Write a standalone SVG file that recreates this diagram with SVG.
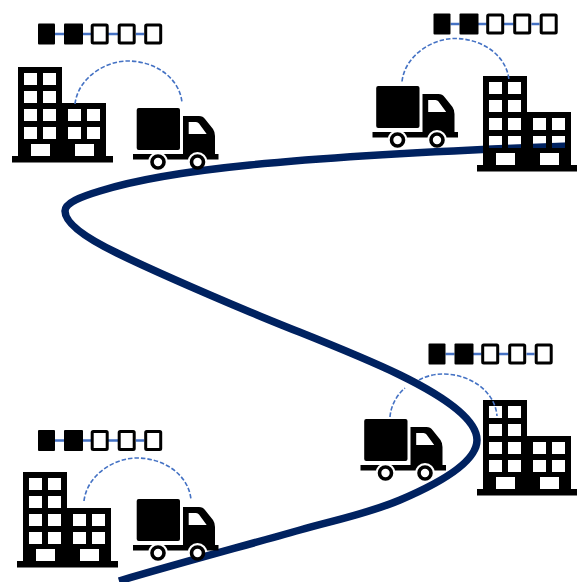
<svg xmlns="http://www.w3.org/2000/svg" width="577" height="582" viewBox="0 0 577 582">
<style>
.route{fill:none;stroke:#002060;stroke-width:7.5;stroke-linecap:butt}
.arc{fill:none;stroke:#4472C4;stroke-width:1.6;stroke-dasharray:4.500 2}
.link{stroke:#4472C4;stroke-width:2.6;fill:none}
.ink{fill:#000}
.open{fill:#fff;stroke:#000;stroke-width:3}
.wheel{fill:#fff;stroke:#000;stroke-width:3.6}
</style>
<defs>
<filter id="soft" x="0" y="0" width="577" height="582" filterUnits="userSpaceOnUse"><feGaussianBlur stdDeviation="0.45"/></filter>
<g id="building">
<path class="ink" fill-rule="evenodd" d="M18 67H62V103H106V156H113V162.500H12V156H18Z
M24 73h13v12h-13z M43 73h13v12h-13z
M24 91h13v12h-13z M43 91h13v12h-13z
M24 109h13v12h-13z M43 109h13v12h-13z
M24 127h13v12h-13z M43 127h13v12h-13z
M68 109h13v12h-13z M87 109h13v12h-13z
M68 127h13v12h-13z M87 127h13v12h-13z
M31 144h19v12h-19z M75 144h19v12h-19z"/>
</g>
<mask id="wheelgap" maskUnits="userSpaceOnUse" x="125" y="100" width="100" height="75">
<rect x="125" y="100" width="100" height="75" fill="#fff"/>
<circle cx="158" cy="162" r="10" fill="#000"/>
<circle cx="197.500" cy="162" r="10" fill="#000"/>
</mask>
<g id="truck">
<rect class="ink" x="136.700" y="108" width="43.300" height="42" rx="2"/>
<g mask="url(#wheelgap)">
<path class="ink" fill-rule="evenodd" d="M183 116H199Q203 116 205 119L213 129Q215 132 215 136V154H218.500V159.500H133V154H183Z
M188.700 122V134H206.700L199 123.500Q198 122 196 122Z"/>
</g>
<circle class="wheel" cx="158" cy="162" r="6"/>
<circle class="wheel" cx="197.500" cy="162" r="6"/>
</g>
<g id="chain">
<path class="link" d="M55 34H64M82 34H91M108 34H118M136 34H144"/>
<rect class="ink" x="38" y="23.500" width="17" height="21" rx="1"/>
<rect class="ink" x="64" y="23.500" width="19" height="21" rx="1"/>
<rect class="open" x="92.200" y="25" width="15" height="18" rx="1"/>
<rect class="open" x="119.200" y="25" width="15" height="18" rx="1"/>
<rect class="open" x="145.700" y="25" width="15" height="18" rx="1"/>
</g>
</defs>
<g filter="url(#soft)">
<path id="route" class="route" d="M570 146C460 150 350 155 250 165C190 171 135 180 100 191C80 197 65 203 65 211C65 224 88 239 117 253C160 274 205 293 250 312C300 333 350 351 400 375C445 397 477 420 477 440C477 462 440 483 400 500C367 514 335 520 300 530C240 547 180 563 119 581"/>
<g id="site-top-left">
<use href="#chain"/>
<use href="#building"/>
<use href="#truck"/>
</g>
<g id="site-top-right">
<use href="#chain" transform="translate(395.500 -10)"/>
<use href="#building" transform="translate(465 9)"/>
<use href="#truck" transform="translate(239.500 -22)"/>
</g>
<g id="site-bottom-right">
<use href="#chain" transform="translate(390.500 320)"/>
<use href="#building" transform="translate(465 333)"/>
<use href="#truck" transform="translate(227.500 311)"/>
</g>
<g id="site-bottom-left">
<use href="#chain" transform="translate(0 406.500)"/>
<use href="#building" transform="translate(5 405)"/>
<use href="#truck" transform="translate(0 391)"/>
</g>
<g id="connectors">
<path class="arc" d="M75 104C78 78 105 61 128 61C155 61 180 78 182 103"/>
<path class="arc" d="M402 81.500C405 55.500 432 38.500 455 38.500C482 38.500 507 55.500 509 80.500"/>
<path class="arc" d="M390 417C391 404 398 394 405 388M419 380C426 376 435 374 443 374C470 374 495 391 497 416"/>
<path class="arc" d="M84 501C87 475 114 458 137 458C164 458 189 475 191 500"/>
</g>
</g>
</svg>
